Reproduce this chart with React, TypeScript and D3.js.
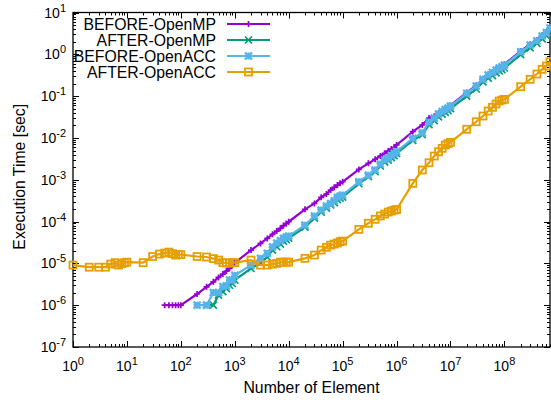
import React, { useRef, useEffect } from 'react';
import * as d3 from 'd3';

// number of elements: 1..9 x 10^k, up to 7e8
const elements: number[] = [
  1, 2, 3, 4, 5, 6, 7, 8, 9,
  10, 20, 30, 40, 50, 60, 70, 80, 90,
  100, 200, 300, 400, 500, 600, 700, 800, 900,
  1e3, 2e3, 3e3, 4e3, 5e3, 6e3, 7e3, 8e3, 9e3,
  1e4, 2e4, 3e4, 4e4, 5e4, 6e4, 7e4, 8e4, 9e4,
  1e5, 2e5, 3e5, 4e5, 5e5, 6e5, 7e5, 8e5, 9e5,
  1e6, 2e6, 3e6, 4e6, 5e6, 6e6, 7e6, 8e6, 9e6,
  1e7, 2e7, 3e7, 4e7, 5e7, 6e7, 7e7, 8e7, 9e7,
  1e8, 2e8, 3e8, 4e8, 5e8, 6e8, 7e8,
];

// execution time [sec], each list starts at the given element count
const beforeOmpStart = 50;
const beforeOmp: number[] = [
  1e-6, 1e-6, 1e-6, 1e-6, 1e-6,
  1e-6, 1.85e-6, 2.75e-6, 3.63e-6, 4.62e-6, 5.55e-6, 6.55e-6, 7.6e-6, 9.1e-6,
  1.03e-5, 2.08e-5, 3.0e-5, 3.96e-5, 4.94e-5, 5.93e-5, 6.9e-5, 8.0e-5, 8.95e-5,
  9.9e-5, 1.96e-4, 2.72e-4, 3.79e-4, 4.55e-4, 5.67e-4, 6.58e-4, 7.46e-4, 8.3e-4,
  8.95e-4, 1.77e-3, 2.47e-3, 3.08e-3, 3.69e-3, 4.28e-3, 4.86e-3, 5.42e-3, 5.9e-3,
  6.8e-3, 0.0141, 0.0204, 0.0299, 0.033, 0.039, 0.045, 0.05, 0.054,
  0.06, 0.122, 0.18, 0.26, 0.33, 0.38, 0.44, 0.49, 0.53,
  0.58, 1.2, 1.75, 2.2, 2.85, 3.4, 4.4,
];

const afterOmpStart = 300;
const afterOmp: number[] = [
  1e-6, 1e-6, 1.75e-6, 2.1e-6, 2.5e-6, 3.0e-6, 3.3e-6,
  3.98e-6, 7.6e-6, 1.03e-5, 1.42e-5, 2.08e-5, 2.5e-5, 2.9e-5, 3.4e-5, 3.7e-5,
  4.0e-5, 7.4e-5, 1.21e-4, 1.69e-4, 2.1e-4, 2.49e-4, 2.85e-4, 3.36e-4, 3.63e-4,
  3.85e-4, 8.1e-4, 1.19e-3, 1.57e-3, 2.13e-3, 2.65e-3, 2.96e-3, 3.4e-3, 3.79e-3,
  4.24e-3, 8.7e-3, 0.012, 0.0209, 0.026, 0.032, 0.037, 0.041, 0.045,
  0.05, 0.1, 0.148, 0.22, 0.27, 0.31, 0.36, 0.4, 0.43,
  0.47, 0.98, 1.42, 1.82, 2.35, 2.8, 3.6,
];

const beforeAccStart = 200;
const beforeAcc: number[] = [
  1e-6, 1e-6, 2e-6, 2e-6, 2.8e-6, 2.9e-6, 4e-6, 4e-6,
  5.2e-6, 9.1e-6, 1.32e-5, 1.73e-5, 2.48e-5, 3.06e-5, 3.5e-5, 3.96e-5, 4.26e-5,
  4.5e-5, 8.2e-5, 1.36e-4, 1.88e-4, 2.35e-4, 2.7e-4, 3.15e-4, 3.79e-4, 4.07e-4,
  4.3e-4, 8.95e-4, 1.29e-3, 1.71e-3, 2.38e-3, 2.96e-3, 3.3e-3, 3.79e-3, 4.24e-3,
  4.73e-3, 9.8e-3, 0.0133, 0.024, 0.0299, 0.0373, 0.0429, 0.0478, 0.0519,
  0.058, 0.117, 0.175, 0.252, 0.32, 0.367, 0.421, 0.47, 0.505,
  0.555, 1.15, 1.67, 2.11, 2.74, 3.29, 4.26,
];

const afterAccStart = 1;
const afterAcc: number[] = [
  9.1e-6, 8.1e-6, 8.1e-6, 8.1e-6, 9.6e-6, 1.04e-5, 9.1e-6, 9.9e-6, 1.04e-5,
  1.07e-5, 1.04e-5, 1.46e-5, 1.67e-5, 1.76e-5, 1.86e-5, 1.71e-5, 1.58e-5, 1.62e-5,
  1.62e-5, 1.46e-5, 1.42e-5, 1.30e-5, 1.20e-5, 1.04e-5, 1.02e-5, 1.02e-5, 1.04e-5,
  1.04e-5, 1.20e-5, 9.1e-6, 9.1e-6, 9.6e-6, 1.0e-5, 1.07e-5, 1.07e-5, 1.07e-5,
  1.07e-5, 1.32e-5, 1.58e-5, 2.08e-5, 2.42e-5, 2.74e-5, 2.90e-5, 3.06e-5, 3.32e-5,
  3.41e-5, 6.5e-5, 9.1e-5, 1.13e-4, 1.36e-4, 1.51e-4, 1.69e-4, 1.78e-4, 1.88e-4,
  1.94e-4, 8.2e-4, 1.71e-3, 2.55e-3, 3.69e-3, 4.68e-3, 5.64e-3, 6.76e-3, 7.3e-3,
  7.85e-3, 0.0161, 0.0244, 0.0334, 0.044, 0.054, 0.0647, 0.0764, 0.0807,
  0.0838, 0.168, 0.252, 0.338, 0.438, 0.525, 0.665,
];

const xTickExps = [0, 1, 2, 3, 4, 5, 6, 7, 8];
const yTickExps = [1, 0, -1, -2, -3, -4, -5, -6, -7];

type Pt = { n: number; t: number };
type Series = { name: string; color: string; marker: string; pts: Pt[] };

const toPts = (start: number, times: number[]): Pt[] => {
  const i0 = elements.indexOf(start);
  return times.map((t, i) => ({ n: elements[i0 + i], t }));
};

const series: Series[] = [
  { name: 'BEFORE-OpenMP', color: '#9400d3', marker: 'plus', pts: toPts(beforeOmpStart, beforeOmp) },
  { name: 'AFTER-OpenMP', color: '#009e73', marker: 'cross', pts: toPts(afterOmpStart, afterOmp) },
  { name: 'BEFORE-OpenACC', color: '#56b4e9', marker: 'star', pts: toPts(beforeAccStart, beforeAcc) },
  { name: 'AFTER-OpenACC', color: '#e69f00', marker: 'square', pts: toPts(afterAccStart, afterAcc) },
];

const Chart: React.FC = () => {
  const svgRef = useRef<SVGSVGElement | null>(null);

  useEffect(() => {
    if (!svgRef.current) return;
    const svg = d3.select(svgRef.current);
    svg.selectAll('*').remove();

    const left = 73, right = 550, top = 12.5, bottom = 347;
    const font = '"Liberation Sans", Arial, sans-serif';

    const x = d3.scaleLog().domain([1, 7e8]).range([left, right]);
    const y = d3.scaleLog().domain([1e-7, 10]).range([bottom, top]);

    const g = svg.append('g');

    // ticks (inward, mirrored)
    const ticks = g.append('g').attr('stroke', '#000').attr('stroke-width', 1);
    for (let e = 0; e <= 8; e++) {
      for (let m = 1; m <= 9; m++) {
        const v = m * Math.pow(10, e);
        if (v > 7e8) break;
        const px = Math.round(x(v)) + 0.5;
        const len = m === 1 ? 6 : 3;
        ticks.append('line').attr('x1', px).attr('x2', px).attr('y1', bottom).attr('y2', bottom - len);
        ticks.append('line').attr('x1', px).attr('x2', px).attr('y1', top).attr('y2', top + len);
      }
    }
    for (let e = -7; e <= 1; e++) {
      for (let m = 1; m <= 9; m++) {
        const v = m * Math.pow(10, e);
        if (v > 10) break;
        const py = Math.round(y(v)) + 0.5;
        const len = m === 1 ? 6 : 3;
        ticks.append('line').attr('x1', left).attr('x2', left + len).attr('y1', py).attr('y2', py);
        ticks.append('line').attr('x1', right).attr('x2', right - len).attr('y1', py).attr('y2', py);
      }
    }

    // border
    g.append('rect')
      .attr('x', left).attr('y', top)
      .attr('width', right - left).attr('height', bottom - top)
      .attr('fill', 'none').attr('stroke', '#000').attr('stroke-width', 1.3);

    // tick labels
    xTickExps.forEach(e => {
      const t = g.append('text')
        .attr('x', x(Math.pow(10, e)))
        .attr('y', 371)
        .attr('text-anchor', 'middle')
        .attr('font-family', font).attr('font-size', 14);
      t.append('tspan').text('10');
      t.append('tspan').attr('dy', -6).attr('font-size', 11).text(String(e));
    });
    yTickExps.forEach(e => {
      const t = g.append('text')
        .attr('x', 66)
        .attr('y', y(Math.pow(10, e)) + 5)
        .attr('text-anchor', 'end')
        .attr('font-family', font).attr('font-size', 14);
      t.append('tspan').text('10');
      t.append('tspan').attr('dy', -6).attr('font-size', 11).text(String(e));
    });

    // axis titles
    g.append('text')
      .attr('x', (left + right) / 2).attr('y', 393)
      .attr('text-anchor', 'middle')
      .attr('font-family', font).attr('font-size', 15.8)
      .text('Number of Element');
    g.append('text')
      .attr('transform', `translate(25,${(top + bottom) / 2 - 3}) rotate(-90)`)
      .attr('text-anchor', 'middle')
      .attr('font-family', font).attr('font-size', 15.8)
      .text('Execution Time [sec]');

    const drawMarker = (sel: d3.Selection<SVGGElement, unknown, null, undefined>, kind: string, px: number, py: number, color: string) => {
      const s = kind === 'plus' ? 3 : 3.5;
      const w = kind === 'star' ? 2.3 : 1.7;
      if (kind === 'plus' || kind === 'star') {
        sel.append('path').attr('d', `M${px - s},${py}H${px + s}M${px},${py - s}V${py + s}`)
          .attr('stroke', color).attr('stroke-width', w).attr('fill', 'none');
      }
      if (kind === 'cross' || kind === 'star') {
        sel.append('path').attr('d', `M${px - s},${py - s}L${px + s},${py + s}M${px - s},${py + s}L${px + s},${py - s}`)
          .attr('stroke', color).attr('stroke-width', w).attr('fill', 'none');
      }
      if (kind === 'square') {
        sel.append('rect').attr('x', px - s).attr('y', py - s).attr('width', 2 * s).attr('height', 2 * s)
          .attr('stroke', color).attr('stroke-width', 1.8).attr('fill', 'none');
      }
    };

    const line = d3.line<Pt>().x(d => x(d.n)).y(d => y(d.t));

    const plot = g.append('g');
    series.forEach(s => {
      const sg = plot.append('g');
      sg.append('path')
        .datum(s.pts)
        .attr('d', line)
        .attr('fill', 'none')
        .attr('stroke', s.color)
        .attr('stroke-width', 2.2);
      s.pts.forEach(p => drawMarker(sg, s.marker, x(p.n), y(p.t), s.color));
    });

    // legend
    const leg = g.append('g');
    series.forEach((s, i) => {
      const ly = 24 + i * 16;
      leg.append('text')
        .attr('x', 216).attr('y', ly + 5.5)
        .attr('text-anchor', 'end')
        .attr('font-family', font).attr('font-size', 15.8)
        .text(s.name);
      const lg = leg.append('g');
      lg.append('line').attr('x1', 227).attr('x2', 270).attr('y1', ly).attr('y2', ly)
        .attr('stroke', s.color).attr('stroke-width', 2.2);
      drawMarker(lg, s.marker, 248.5, ly, s.color);
    });
  }, []);

  return (
    <svg ref={svgRef} width={551} height={400}
      style={{ position: 'absolute', left: 0, top: 0, background: '#fff' }} />
  );
};

export default function App() {
  return <Chart />;
}
